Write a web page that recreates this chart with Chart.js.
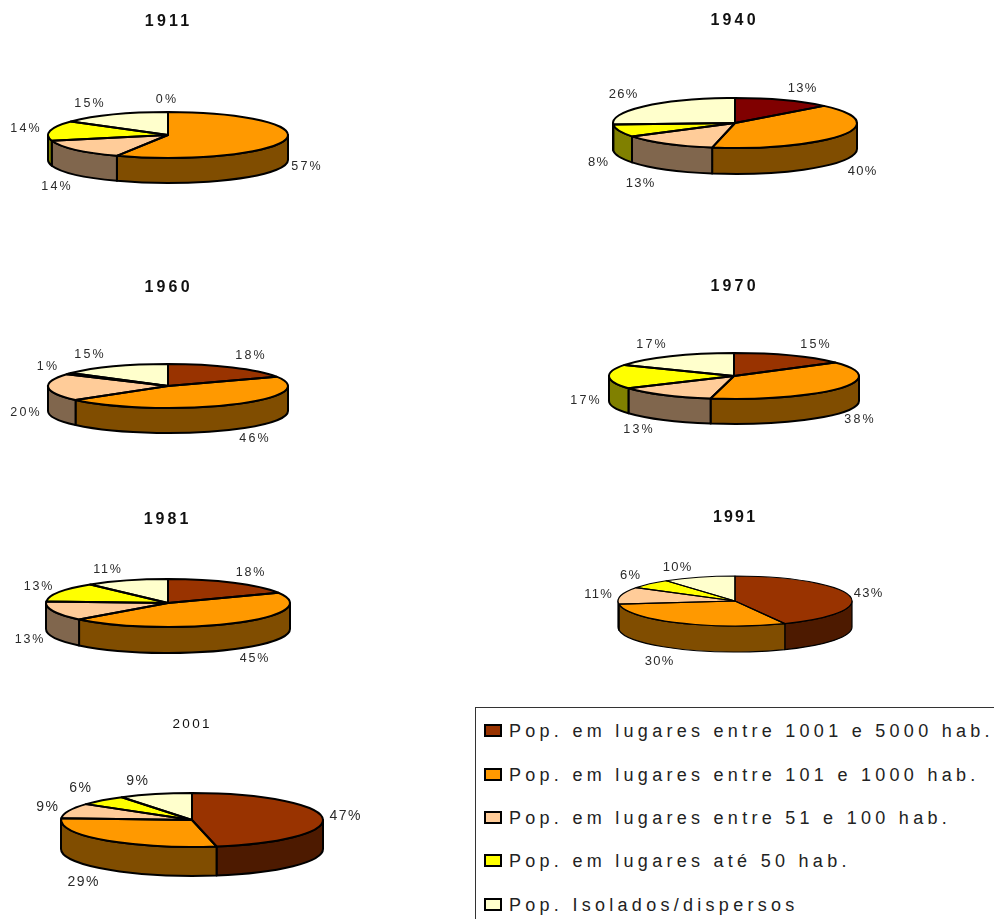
<!DOCTYPE html>
<html lang="pt">
<head>
<meta charset="utf-8">
<title>População por dimensão dos lugares</title>
<script src="https://cdn.jsdelivr.net/npm/chart.js@4"></script>
<style>
  html, body { margin: 0; padding: 0; width: 994px; height: 919px; overflow: hidden; background: #fff; }
  #stage { position: relative; width: 994px; height: 919px; overflow: hidden; }
  canvas { position: absolute; }
  #legend {
    position: absolute; left: 475px; top: 707px; width: 560px; height: 260px;
    border: 1px solid #333; box-sizing: border-box; background: #fff;
    font-family: "Liberation Sans", Arial, sans-serif; color: #222;
  }
  .row { position: absolute; left: 8px; height: 20px; white-space: nowrap; font-size: 18px; line-height: 20px; letter-spacing: 4.28px; }
  .key { position: absolute; left: 0; top: 3px; width: 18px; height: 13px; box-sizing: border-box; border: 2px solid #000; }
  .name { position: absolute; left: 25px; top: 0; }
</style>
</head>
<body>
<div id="stage"><div id="legend"></div></div>
<script>
// Settlement size classes, in drawing order
const categories = [
  'Pop. em lugares entre 1001 e 5000 hab.',
  'Pop. em lugares entre 101 e 1000 hab.',
  'Pop. em lugares entre 51 e 100 hab.',
  'Pop. em lugares até 50 hab.',
  'Pop. Isolados/dispersos'
];
const palette = ['#993300', '#FF9900', '#FFCC99', '#FFFF00', '#FFFFCC'];
const palette1940 = ['#800000', '#FF9900', '#FFCC99', '#FFFF00', '#FFFFCC'];

// Share of the population per class (%)
const values1911 = [0, 57, 14, 14, 15];
const values1940 = [13, 40, 13, 8, 26];
const values1960 = [18, 46, 20, 1, 15];
const values1970 = [15, 38, 13, 17, 17];
const values1981 = [18, 45, 13, 13, 11];
const values1991 = [43, 30, 11, 6, 10];
const values2001 = [47, 29, 9, 6, 9];

const CANVAS_W = 420, CANVAS_H = 280;
const SANS = '"Liberation Sans", Arial, sans-serif';

// Placement and styling of each pie; labelOffsets are relative to the pie centre
const pies = [
  { title: '1911', values: values1911, colors: palette, cx: 168, cy: 135, rx: 120, ry: 23, depth: 25, line: 2,
    titleAt: [-1, -113], titleFont: 'bold 16px', titleGap: 3.2, labelSize: 12.5, labelGap: 2.2,
    labelOffsets: [[-2, -35], [138, 32], [-112, 52], [-143, -6], [-79, -31]] },
  { title: '1940', values: values1940, colors: palette1940, cx: 735, cy: 123, rx: 122, ry: 25, depth: 26, line: 2,
    titleAt: [-2, -102], titleFont: 'bold 16px', titleGap: 3.2, labelSize: 13, labelGap: 1.3,
    labelOffsets: [[67, -35], [127, 48], [-95, 60], [-137, 39], [-112, -29]] },
  { title: '1960', values: values1960, colors: palette, cx: 168, cy: 386, rx: 120, ry: 22, depth: 25, line: 2,
    titleAt: [-1, -98], titleFont: 'bold 16px', titleGap: 3.2, labelSize: 12.5, labelGap: 2.2,
    labelOffsets: [[82, -30], [86, 53], [-143, 27], [-121, -19], [-79, -31]] },
  { title: '1970', values: values1970, colors: palette, cx: 734, cy: 376, rx: 125, ry: 23, depth: 25, line: 2,
    titleAt: [-1, -89], titleFont: 'bold 16px', titleGap: 3.2, labelSize: 12.5, labelGap: 2.2,
    labelOffsets: [[81, -31], [125, 44], [-96, 54], [-149, 25], [-83, -31]] },
  { title: '1981', values: values1981, colors: palette, cx: 168, cy: 603, rx: 122, ry: 24, depth: 26, line: 2,
    titleAt: [-2, -83], titleFont: 'bold 16px', titleGap: 3, labelSize: 12.5, labelGap: 1.8,
    labelOffsets: [[82, -30], [86, 56], [-139, 37], [-130, -16], [-61, -33]] },
  { title: '1991', values: values1991, colors: palette, cx: 735, cy: 601, rx: 117, ry: 25, depth: 26, line: 1.2,
    titleAt: [-1, -83], titleFont: 'bold 16px', titleGap: 2.2, labelSize: 13, labelGap: 1.3,
    labelOffsets: [[133, -8], [-76, 60], [-137, -7], [-105, -26], [-58, -34]] },
  { title: '2001', values: values2001, colors: palette, cx: 192, cy: 820, rx: 131, ry: 27, depth: 29, line: 2,
    titleAt: [-1, -96], titleFont: '13.5px', titleGap: 2.4, labelSize: 14, labelGap: 1.5,
    labelOffsets: [[153, -4], [-109, 62], [-145, -13], [-112, -32], [-55, -39]] }
];

// Half-intensity shade used on the side wall of a slice
function shade(hex) {
  const n = parseInt(hex.slice(1), 16);
  const half = c => Math.round(c / 2);
  return `rgb(${half(n >> 16 & 255)},${half(n >> 8 & 255)},${half(n & 255)})`;
}

// Draws text centred on x, keeping the trailing letter gap out of the centring
function spacedText(ctx, text, x, y, font, gap, color) {
  ctx.save();
  ctx.font = font;
  ctx.letterSpacing = gap + 'px';
  ctx.fillStyle = color;
  ctx.textAlign = 'left';
  ctx.textBaseline = 'middle';
  const w = ctx.measureText(text).width - gap;
  ctx.fillText(text, x - w / 2, y);
  ctx.restore();
}

// Tilts the pie into an ellipse, adds the side walls and outlines, and writes the labels
const tiltedPie = {
  id: 'tiltedPie',
  beforeDatasetsDraw(chart, args, opts) {
    const { ctx } = chart;
    const arcs = chart.getDatasetMeta(0).data;
    const { ry, depth, line } = opts;
    const k = ry / arcs[0].outerRadius;
    const x0 = arcs[0].x, y0 = arcs[0].y;

    // Only the part of a slice between 0 and PI faces the viewer
    ctx.save();
    ctx.strokeStyle = '#000';
    ctx.lineWidth = line;
    ctx.lineJoin = 'round';
    arcs.forEach((arc, i) => {
      if (arc.endAngle - arc.startAngle <= 0) return;
      [0, 2 * Math.PI].forEach(shift => {
        const a = Math.max(arc.startAngle, shift);
        const b = Math.min(arc.endAngle, shift + Math.PI);
        if (b <= a) return;
        const r = arc.outerRadius;
        ctx.beginPath();
        ctx.ellipse(x0, y0, r, r * k, 0, a, b);
        ctx.ellipse(x0, y0 + depth, r, r * k, 0, b, a, true);
        ctx.closePath();
        ctx.fillStyle = shade(chart.data.datasets[0].backgroundColor[i]);
        ctx.fill();
        ctx.stroke();
      });
    });
    ctx.restore();

    // The library paints the slices inside this squashed space
    ctx.save();
    ctx.translate(x0, y0);
    ctx.scale(1, k);
    ctx.translate(-x0, -y0);
  },
  afterDatasetsDraw(chart, args, opts) {
    const { ctx } = chart;
    ctx.restore();
    const arcs = chart.getDatasetMeta(0).data;
    const x0 = arcs[0].x, y0 = arcs[0].y;
    const k = opts.ry / arcs[0].outerRadius;

    ctx.save();
    ctx.strokeStyle = '#000';
    ctx.lineWidth = opts.line;
    ctx.lineJoin = 'round';
    arcs.forEach(arc => {
      if (arc.endAngle - arc.startAngle <= 0) return;
      ctx.beginPath();
      ctx.moveTo(x0, y0);
      ctx.ellipse(x0, y0, arc.outerRadius, arc.outerRadius * k, 0, arc.startAngle, arc.endAngle);
      ctx.closePath();
      ctx.stroke();
    });
    ctx.restore();

    const data = chart.data.datasets[0].data;
    opts.labelOffsets.forEach((o, i) => {
      spacedText(ctx, data[i] + '%', x0 + o[0], y0 + o[1],
        `${opts.labelSize}px ${SANS}`, opts.labelGap, '#2a2a2a');
    });
    spacedText(ctx, opts.title, x0 + opts.titleAt[0], y0 + opts.titleAt[1],
      `${opts.titleFont} ${SANS}`, opts.titleGap, '#111');
  }
};

const stage = document.getElementById('stage');
pies.forEach(p => {
  const canvas = document.createElement('canvas');
  canvas.width = CANVAS_W;
  canvas.height = CANVAS_H;
  canvas.style.left = (p.cx - CANVAS_W / 2) + 'px';
  canvas.style.top = (p.cy - CANVAS_H / 2) + 'px';
  stage.appendChild(canvas);
  new Chart(canvas, {
    type: 'pie',
    data: {
      labels: categories,
      datasets: [{ data: p.values, backgroundColor: p.colors, borderWidth: 0 }]
    },
    options: {
      responsive: false,
      animation: false,
      radius: p.rx,
      rotation: 0,
      layout: { padding: 0 },
      plugins: {
        legend: { display: false },
        tooltip: { enabled: false },
        tiltedPie: p
      }
    },
    plugins: [tiltedPie]
  });
});

// Legend panel, cut off by the page edge
const legend = document.getElementById('legend');
const rowTops = [12.5, 56.5, 100, 143, 186.5];
categories.forEach((name, i) => {
  const row = document.createElement('div');
  row.className = 'row';
  row.style.top = rowTops[i] + 'px';
  const key = document.createElement('span');
  key.className = 'key';
  key.style.background = palette[i];
  const label = document.createElement('span');
  label.className = 'name';
  label.textContent = name;
  row.append(key, label);
  legend.appendChild(row);
});
</script>
</body>
</html>
